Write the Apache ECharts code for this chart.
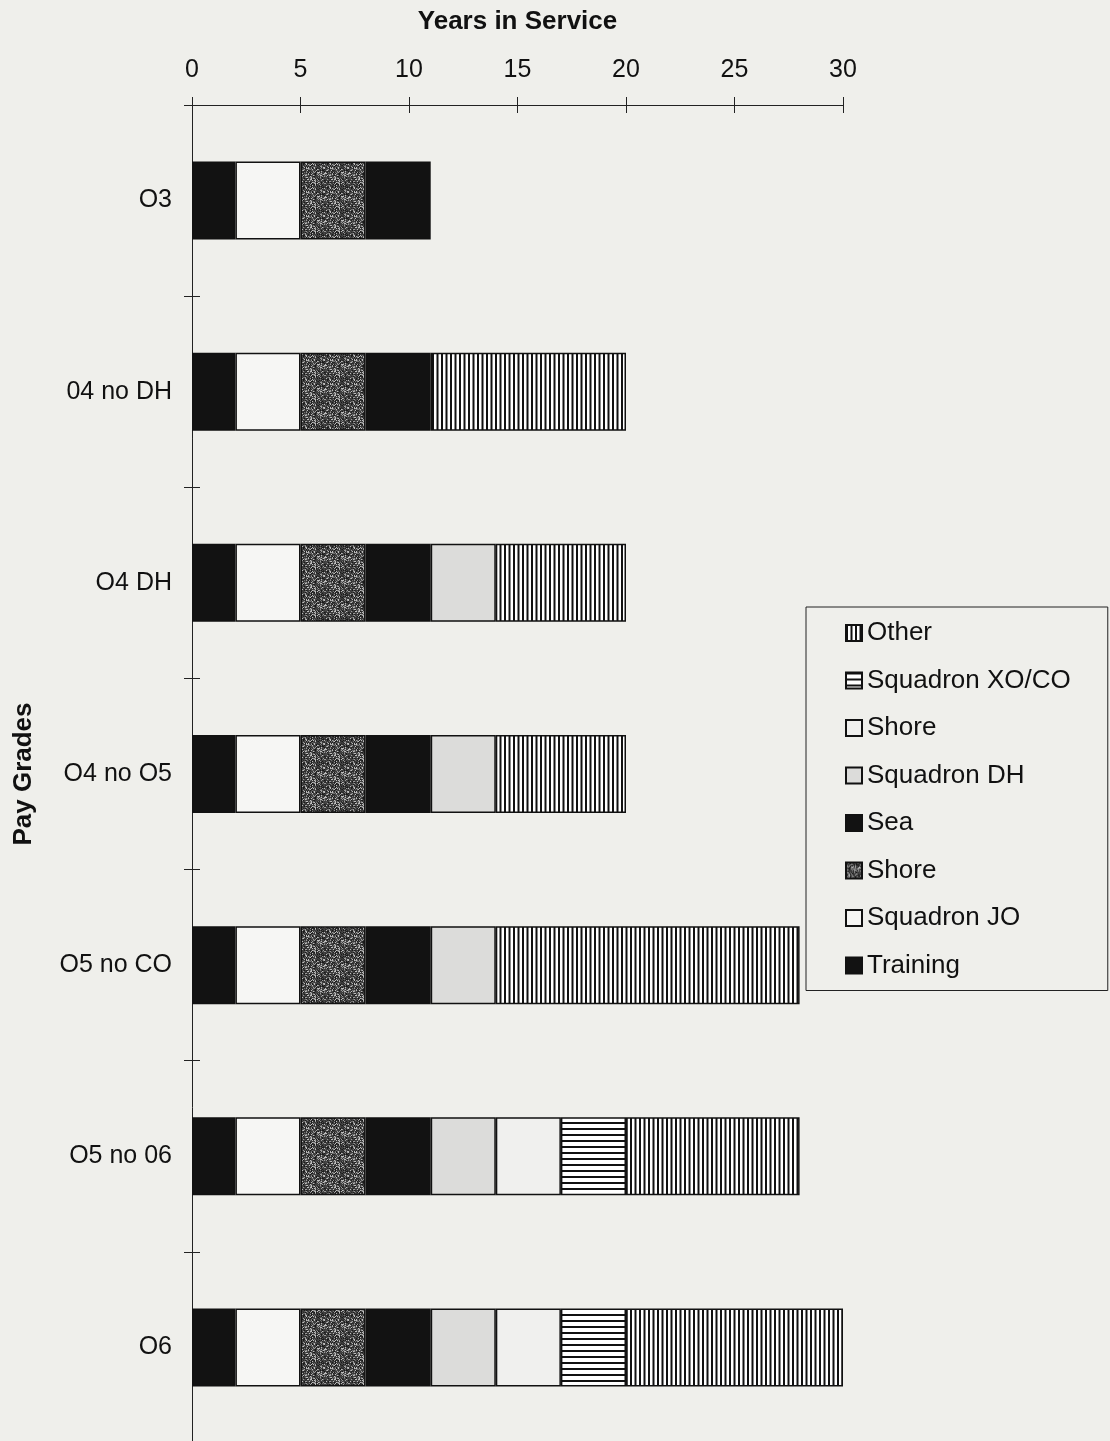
<!DOCTYPE html>
<html>
<head>
<meta charset="utf-8">
<script src="https://cdn.jsdelivr.net/npm/echarts@6/dist/echarts.min.js"></script>
<style>
html,body{margin:0;padding:0;background:#efefeb;}
#c{width:1110px;height:1441px;}
</style>
</head>
<body>
<div id="c"></div>
<script>
const categories = ['O3', '04 no DH', 'O4 DH', 'O4 no O5', 'O5 no CO', 'O5 no 06', 'O6'];
const training   = [2, 2, 2, 2, 2, 2, 2];
const squadronJO = [3, 3, 3, 3, 3, 3, 3];
const shore1     = [3, 3, 3, 3, 3, 3, 3];
const sea        = [3, 3, 3, 3, 3, 3, 3];
const squadronDH = [null, null, 3, 3, 3, 3, 3];
const shore2     = [null, null, null, null, null, 3, 3];
const xoco       = [null, null, null, null, null, 3, 3];
const other      = [null, 9, 6, 6, 14, 8, 10];
const xTicks = [0, 5, 10, 15, 20, 25, 30];

function makePattern(w, h, draw) {
  const c = document.createElement('canvas');
  c.width = w; c.height = h;
  const ctx = c.getContext('2d');
  draw(ctx, w, h);
  return { image: c, repeat: 'repeat' };
}
const vStripes = makePattern(9, 4, (ctx, w, h) => {
  ctx.fillStyle = '#ffffff'; ctx.fillRect(0, 0, w, h);
  ctx.fillStyle = '#111111'; ctx.fillRect(0, 0, 2, h); ctx.fillRect(4.5, 0, 2, h);
});
const hStripes = makePattern(4, 6, (ctx, w, h) => {
  ctx.fillStyle = '#ffffff'; ctx.fillRect(0, 0, w, h);
  ctx.fillStyle = '#111111'; ctx.fillRect(0, 0, w, 2);
});
// deterministic mottled texture (style only, not data)
const speckle = makePattern(24, 24, (ctx, w, h) => {
  ctx.fillStyle = '#3c3c3c'; ctx.fillRect(0, 0, w, h);
  const shades = ['#1a1a1a', '#2a2a2a', '#4a4a4a', '#6e6e6e', '#9a9a9a', '#bdbdbd'];
  for (let y = 0; y < h; y++) for (let x = 0; x < w; x++) {
    let v = (x * 73856093) ^ (y * 19349663) ^ ((x + y * 7) * 83492791);
    v = ((v >>> 0) % 997) % 10;
    if (v < shades.length) { ctx.fillStyle = shades[v]; ctx.fillRect(x, y, 1, 1); }
  }
});

const seriesDefs = [
  { key: 'Training', label: 'Training', data: training, color: '#121212' },
  { key: 'Squadron JO', label: 'Squadron JO', data: squadronJO, color: '#f6f6f4' },
  { key: 'Shore1', label: 'Shore', data: shore1, color: speckle },
  { key: 'Sea', label: 'Sea', data: sea, color: '#121212' },
  { key: 'Squadron DH', label: 'Squadron DH', data: squadronDH, color: '#dcdcda' },
  { key: 'Shore2', label: 'Shore', data: shore2, color: '#f0f0ee' },
  { key: 'Squadron XO/CO', label: 'Squadron XO/CO', data: xoco, color: hStripes },
  { key: 'Other', label: 'Other', data: other, color: vStripes }
];
const labelMap = {};
seriesDefs.forEach(s => labelMap[s.key] = s.label);

const font = 'Liberation Sans, Arial, sans-serif';
const chart = echarts.init(document.getElementById('c'), null, { renderer: 'canvas' });
const gridTop = 105, gridH = 1338;
chart.setOption({
  backgroundColor: '#efefeb',
  animation: false,
  textStyle: { fontFamily: font, color: '#111' },
  grid: { left: 192, top: gridTop, width: 651, height: gridH, outerBoundsMode: 'none', containLabel: false },
  legend: {
    orient: 'vertical',
    left: 806, top: 607,
    data: seriesDefs.map(s => s.key).reverse(),
    formatter: n => labelMap[n],
    icon: 'rect',
    itemWidth: 16, itemHeight: 16,
    itemGap: 21.5,
    padding: [13, 37, 12, 39],
    borderColor: '#222', borderWidth: 1,
    textStyle: { fontSize: 26, color: '#111', fontFamily: font }
  },
  xAxis: [{
    type: 'value', position: 'top', min: 0, max: 30, interval: 5,
    name: 'Years in Service', nameLocation: 'middle', nameGap: 70,
    nameTextStyle: { fontSize: 26, fontWeight: 'bold', color: '#111', fontFamily: font },
    axisLine: { show: true, lineStyle: { color: '#222', width: 1 } },
    axisTick: { show: true, length: 8, lineStyle: { color: '#222' } },
    axisLabel: { fontSize: 25, color: '#111', margin: 22, formatter: v => xTicks.includes(v) ? String(v) : '' },
    splitLine: { show: false }
  }, {
    type: 'value', position: 'top', min: 0, max: 30, interval: 5,
    axisLine: { show: false },
    axisTick: { show: true, inside: true, length: 8, lineStyle: { color: '#222' } },
    axisLabel: { show: false }, splitLine: { show: false }
  }],
  yAxis: [{
    type: 'category', inverse: true, data: categories,
    name: 'Pay Grades', nameLocation: 'middle', nameGap: 155,
    nameTextStyle: { fontSize: 26, fontWeight: 'bold', color: '#111', fontFamily: font },
    axisLine: { show: true, lineStyle: { color: '#222', width: 1 } },
    axisTick: { show: true, length: 8, lineStyle: { color: '#222' } },
    axisLabel: { fontSize: 25, color: '#111', margin: 20 },
    splitLine: { show: false }
  }, {
    type: 'category', inverse: true, data: categories, position: 'left',
    axisLine: { show: false },
    axisTick: { show: true, inside: true, length: 8, lineStyle: { color: '#222' } },
    axisLabel: { show: false }, splitLine: { show: false }
  }],
  series: seriesDefs.map(s => ({
    name: s.key, type: 'bar', stack: 'total', data: s.data,
    xAxisIndex: 0, yAxisIndex: 0,
    barWidth: 78,
    itemStyle: { color: s.color, borderColor: '#111', borderWidth: 1.5 },
    emphasis: { disabled: true }
  }))
});
</script>
</body>
</html>
